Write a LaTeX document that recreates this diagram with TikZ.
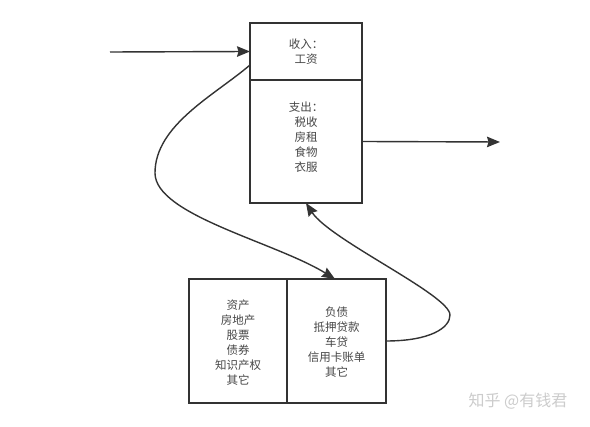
\documentclass[tikz,border=0pt]{standalone}
\usepackage{fontspec}
\setmainfont{Noto Sans CJK SC}
\usetikzlibrary{arrows.meta}
\definecolor{linec}{HTML}{333333}
\definecolor{textc}{HTML}{474747}
\definecolor{wmc}{HTML}{CCCCCC}
\begin{document}
\begin{tikzpicture}[x=1pt,y=-1pt,
  box/.style={draw=linec, line width=1.5pt, inner sep=0pt, outer sep=0pt, anchor=north west},
  txt/.style={text=textc, font=\fontsize{11.5}{15}\selectfont, align=center, inner sep=0pt},
  conn/.style={draw=linec, line width=1.4pt, -{Stealth[length=13pt,width=10.5pt,inset=1.5pt]}}
]
\fill[white] (0,0) rectangle (590,427);
\useasboundingbox (0,0) rectangle (590,427);

\node[box, minimum width=112pt, minimum height=57pt] (income) at (250,23) {};
\node[box, minimum width=112pt, minimum height=123pt] (expense) at (250,80) {};
\node[box, minimum width=98pt, minimum height=124pt] (assets) at (189,279) {};
\node[box, minimum width=99pt, minimum height=124pt] (liab) at (287,279) {};

\node[txt] (incometext) at (income.center) {收入：\\工资};
\node[txt] (expensetext) at ([yshift=4pt]expense.center) {支出：\\税收\\房租\\食物\\衣服};
\node[txt] (assetstext) at ([yshift=-1.5pt]assets.center) {资产\\房地产\\股票\\债券\\知识产权\\其它};
\node[txt] (liabtext) at ([yshift=-1.5pt]liab.center) {负债\\抵押贷款\\车贷\\信用卡账单\\其它};

\coordinate (inA) at (110,52);
\coordinate (outB) at (500,142);
\draw[conn] (inA) -- (income.west);
\draw[conn] (expense.east) -- (outB);

\draw[conn] ([yshift=-13.5pt]income.west) .. controls (215,95) and (155,125) .. (155,173)
  .. controls (155,215) and (275,242) .. ([xshift=-1.5pt]liab.north);
\draw[conn] (liab.east) .. controls (430,341) and (450,328) .. (450,315)
  .. controls (450,295) and (330,240) .. (expense.south);

\node[font=\fontsize{16}{16}\selectfont, text=wmc, inner sep=0pt] (wm) at (518,401) {知乎 @有钱君};
\end{tikzpicture}
\end{document}
